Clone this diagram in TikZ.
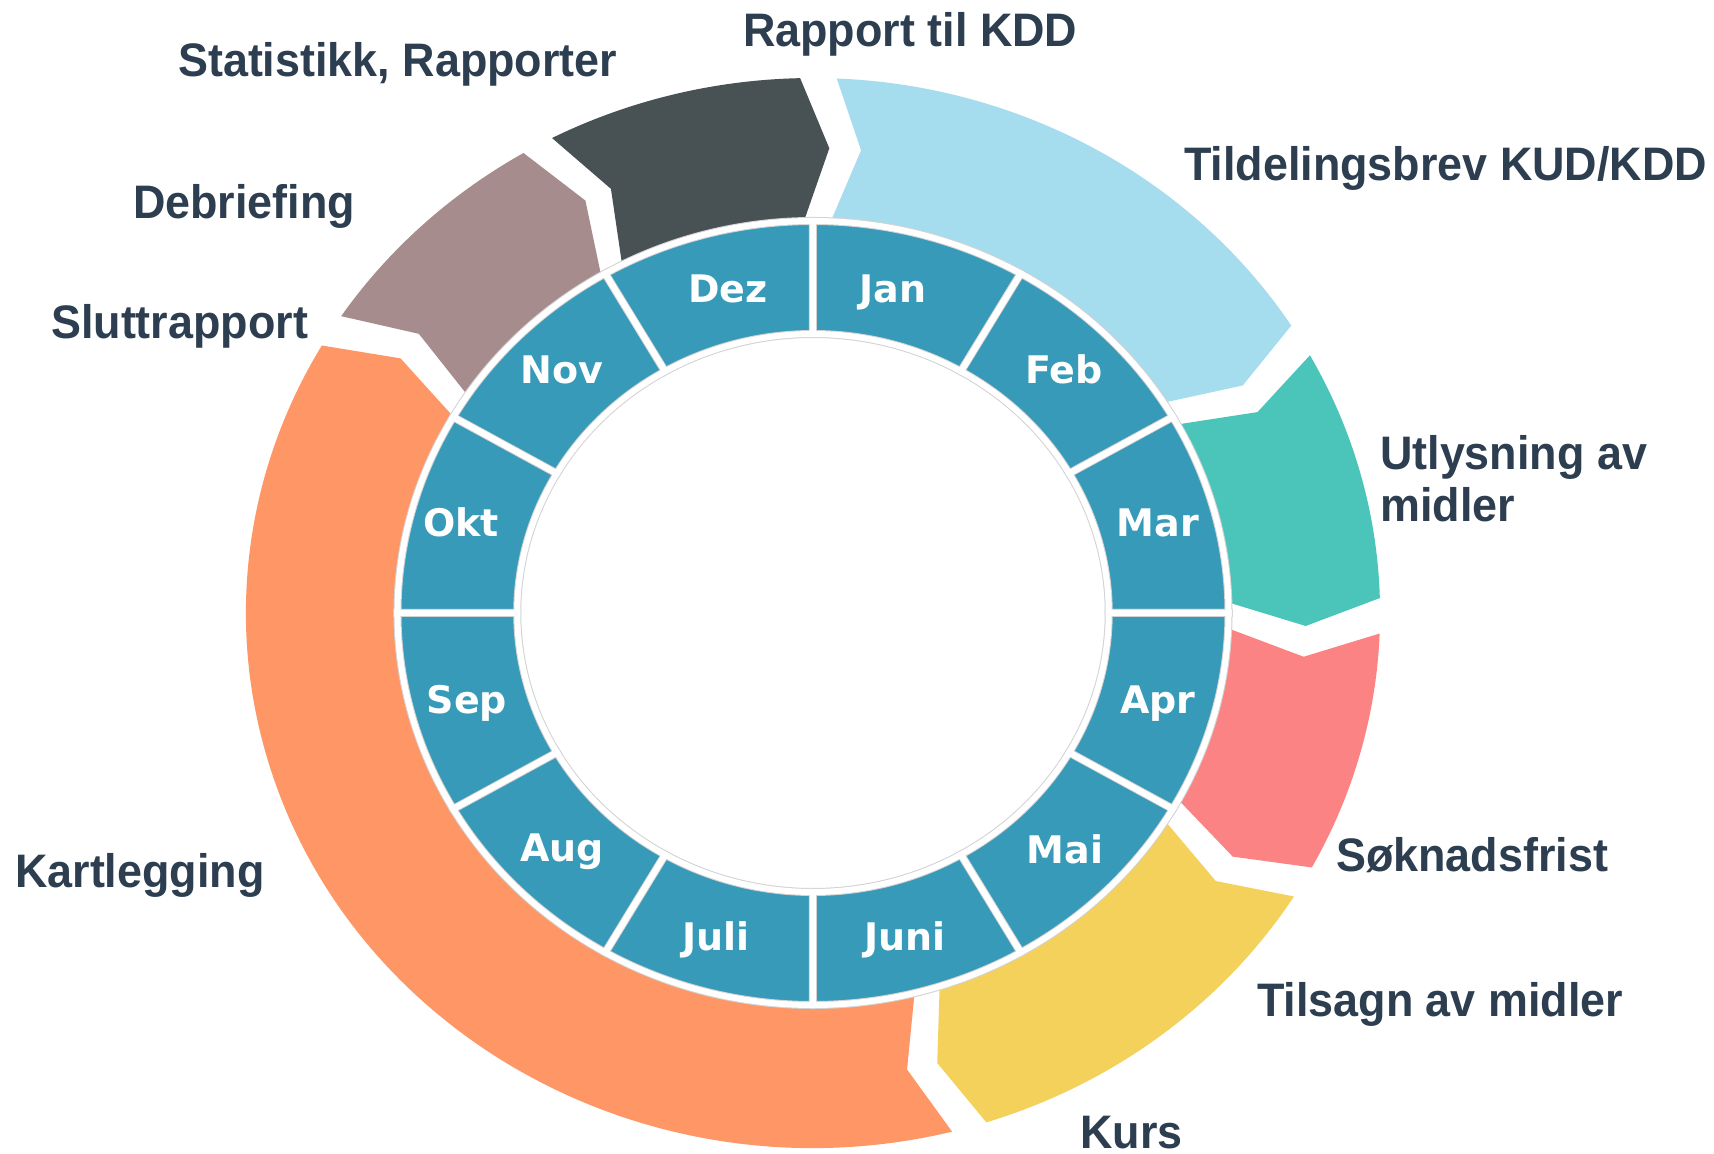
\documentclass[tikz,border=0pt]{standalone}
\usepackage{fontspec}
\newfontfamily\labfont[FakeStretch=0.955]{Liberation Sans}
\newfontfamily\monfont{DejaVu Sans}
\definecolor{monthc}{HTML}{369AB8}
\definecolor{labc}{HTML}{2C3E50}
\definecolor{cdark}{HTML}{485154}
\definecolor{clight}{HTML}{A6DDEE}
\definecolor{cteal}{HTML}{4BC5B9}
\definecolor{cpink}{HTML}{FC8383}
\definecolor{cyellow}{HTML}{F3D15B}
\definecolor{corange}{HTML}{FE9666}
\definecolor{cmauve}{HTML}{A68C8D}
\newcommand\outerseg[3]{%
  \fill[#1] (#2:391) -- ({#2-3.2}:465) -- (#2:535)
    arc[start angle=#2, end angle=#3, radius=535]
    -- ({#3-3.2}:465) -- (#3:391)
    arc[start angle=#3, end angle=#2, radius=391] -- cycle;}
\tikzset{
  lab/.style={anchor=base west, inner sep=0pt, text=labc, align=left,
    font=\labfont\bfseries\fontsize{47}{52}\selectfont},
  mon/.style={inner sep=0pt, text=white, text height=27pt, text depth=0pt,
    font=\monfont\bfseries\fontsize{38}{40}\selectfont},
  monseg/.style={fill=monthc, draw=gray!35, line width=8pt},
  monsep/.style={draw=white, line width=6pt}
}
\begin{document}
\begin{tikzpicture}[x=1pt,y=1pt]
\fill[white] (-813,-541) rectangle (901,613);
\useasboundingbox (-813,-541) rectangle (901,613);
\begin{scope}[xscale=1.06]
  \outerseg{cdark}{117.4}{91.3}
  \outerseg{clight}{87.6}{32.5}
  \outerseg{cteal}{28.8}{1.6}
  \outerseg{cpink}{-2.2}{-28.4}
  \outerseg{cyellow}{-32}{-72.2}
  \outerseg{corange}{-75.8}{-210}
  \outerseg{cmauve}{146.3}{120.7}
  \foreach \k in {0,...,11}{
    \pgfmathsetmacro\a{90-30*\k}
    \pgfmathsetmacro\b{60-30*\k}
    \path[monseg] (\a:279) -- (\a:392) arc[start angle=\a, end angle=\b, radius=392]
      -- (\b:279) arc[start angle=\b, end angle=\a, radius=279] -- cycle;
  }
  \foreach \k in {0,...,11}{
    \pgfmathsetmacro\a{90-30*\k}
    \pgfmathsetmacro\b{60-30*\k}
    \path[monsep] (\a:279) -- (\a:392) arc[start angle=\a, end angle=\b, radius=392]
      -- (\b:279) arc[start angle=\b, end angle=\a, radius=279] -- cycle;
  }
  \foreach \n/\t/\dx/\dy [count=\i from 0] in {m1/Jan/-12/0,m2/Feb/0/6,m3/Mar/2/3,m4/Apr/2/0,m5/Mai/1/0,m6/Juni/0/0,m7/Juli/-5/0,m8/Aug/0/2,m9/Sep/-3/0,m10/Okt/-9/3,m11/Nov/0/6,m12/Dez/7/0}{
    \pgfmathsetmacro\c{75-30*\i}
    \node[mon] (\n) at ([shift={(\dx/1.06,\dy)}]\c:335) {\t};
  }
\end{scope}
\node[lab] (lrapport) at (-70,566) {Rapport til KDD};
\node[lab] (lstat) at (-635,536) {Statistikk, Rapporter};
\node[lab] (ltild) at (371,432) {Tildelingsbrev KUD/KDD};
\node[lab] (ldebr) at (-680,394) {Debriefing};
\node[lab] (lslutt) at (-762,274) {Sluttrapport};
\node[lab] (lutly) at (567,91) {Utlysning av\\midler};
\node[lab] (lsokn) at (523,-258) {Søknadsfrist};
\node[lab] (ltils) at (444,-403) {Tilsagn av midler};
\node[lab] (lkurs) at (267,-535) {Kurs};
\node[lab] (lkart) at (-798,-274) {Kartlegging};
\end{tikzpicture}
\end{document}
